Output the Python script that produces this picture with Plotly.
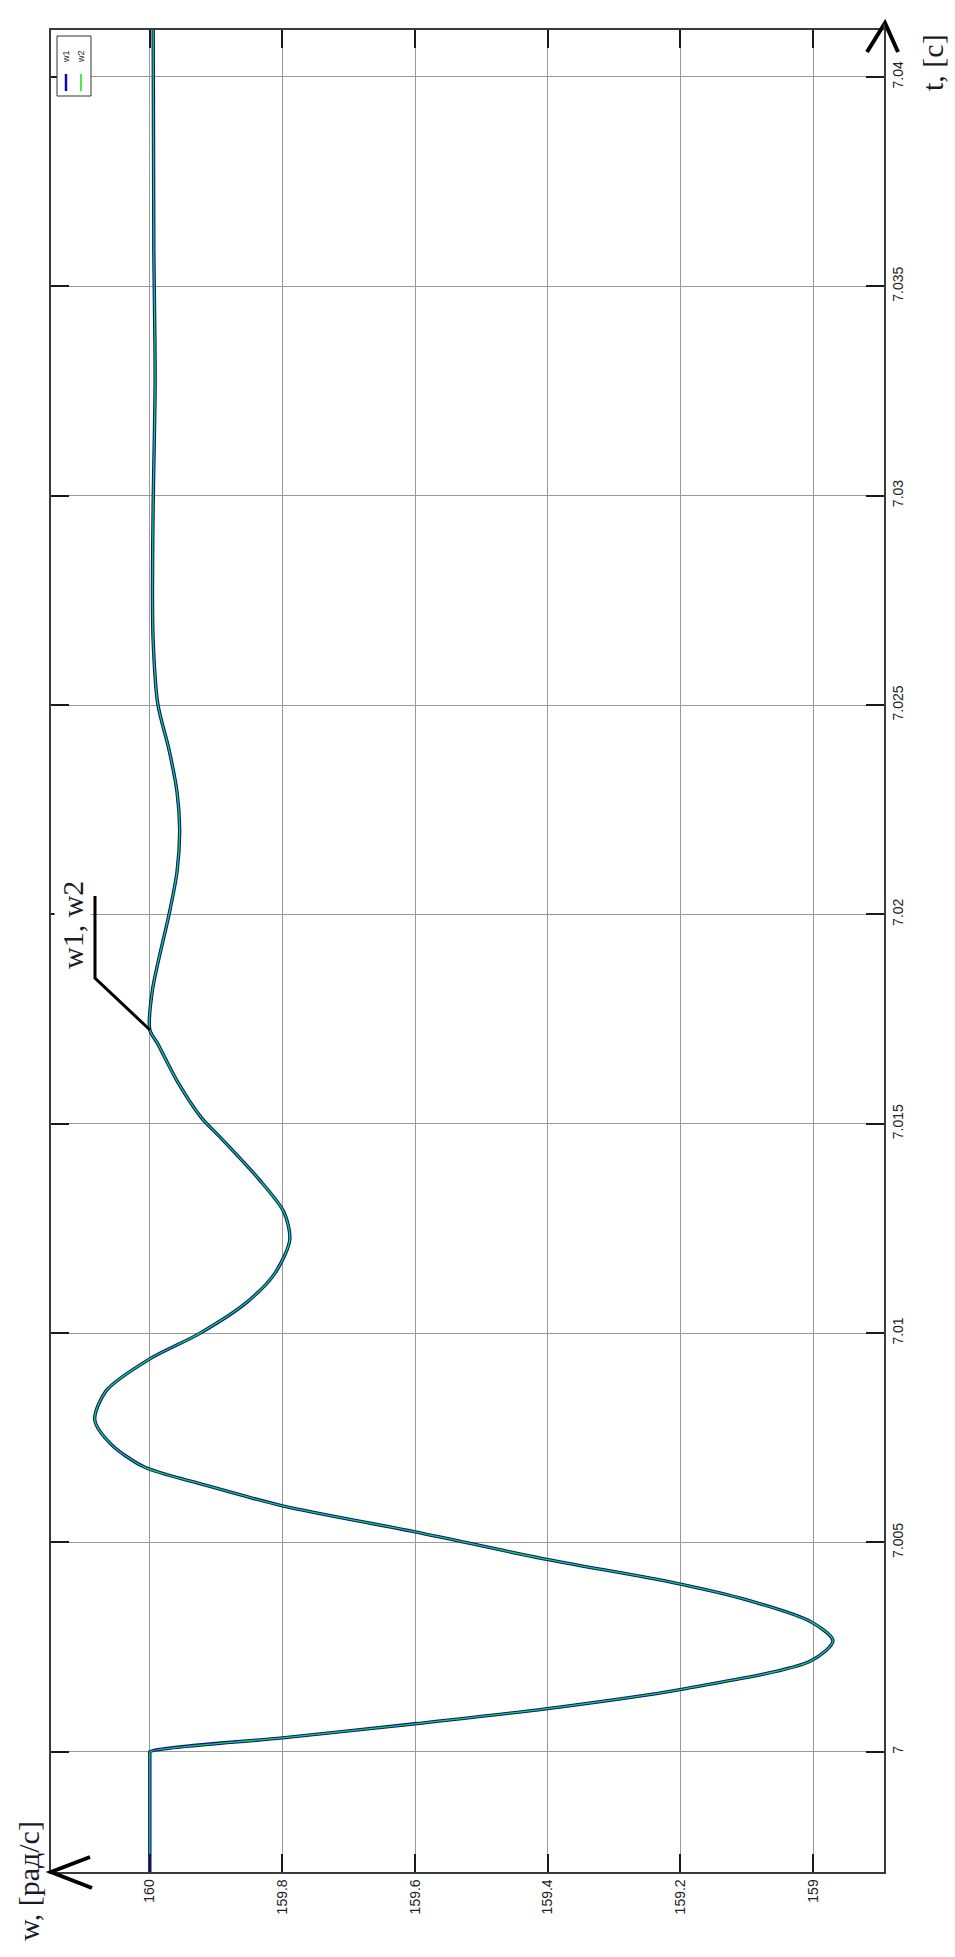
import plotly.graph_objects as go

# Speed transient w(t) around the load step at t = 7 s (two identical signals)
t = [6.9965, 6.99995, 7.0, 7.000334, 7.000669, 7.001027, 7.001481, 7.002173,
     7.002651, 7.003104, 7.003630, 7.004036, 7.004609, 7.005254, 7.005875,
     7.006376, 7.006806, 7.007355, 7.007928, 7.008621, 7.009385, 7.009982,
     7.010746, 7.011439, 7.012227, 7.012896, 7.013684, 7.014663, 7.015140,
     7.016024, 7.016907, 7.017242, 7.018197, 7.020000, 7.021015, 7.022018,
     7.022925, 7.023928, 7.025027, 7.026531, 7.027749, 7.029755, 7.032764,
     7.036000, 7.041500]
w1 = [160.0, 160.0, 160.0, 159.800, 159.600, 159.403, 159.203, 159.003,
      158.970, 159.003, 159.100, 159.209, 159.406, 159.600, 159.800,
      159.918, 160.009, 160.059, 160.083, 160.066, 160.000, 159.926,
      159.853, 159.811, 159.789, 159.798, 159.836, 159.893, 159.922,
      159.959, 159.988, 160.000, 159.996, 159.971, 159.959, 159.955,
      159.959, 159.971, 159.988, 159.995, 159.996, 159.995, 159.992,
      159.994, 159.995]
w2 = [160.0, 160.0, 160.0, 159.800, 159.600, 159.403, 159.203, 159.003,
      158.970, 159.003, 159.100, 159.209, 159.406, 159.600, 159.800,
      159.918, 160.009, 160.059, 160.083, 160.066, 160.000, 159.926,
      159.853, 159.811, 159.789, 159.798, 159.836, 159.893, 159.922,
      159.959, 159.988, 160.000, 159.996, 159.971, 159.959, 159.955,
      159.959, 159.971, 159.988, 159.995, 159.996, 159.995, 159.992,
      159.994, 159.995]

w_ticks = [160, 159.8, 159.6, 159.4, 159.2, 159]
w_labels = ["160", "159.8", "159.6", "159.4", "159.2", "159"]
t_ticks = [7, 7.005, 7.01, 7.015, 7.02, 7.025, 7.03, 7.035, 7.04]
t_labels = ["7", "7.005", "7.01", "7.015", "7.02", "7.025", "7.03", "7.035", "7.04"]

W, H = 955, 1957
L, R, T, B = 51, 884, 30, 1872


def px(X):
    return (X - L) / (R - L)


def py(Y):
    return (B - Y) / (B - T)


def path(points):
    return "M " + " L ".join(f"{px(x):.5f},{py(y):.5f}" for x, y in points)


fig = go.Figure()
fig.add_trace(go.Scatter(x=w1, y=t, mode="lines", name="w1",
                         line=dict(color="#0a0ab8", width=3.4, shape="spline", smoothing=0.8)))
fig.add_trace(go.Scatter(x=w2, y=t, mode="lines", name="w2",
                         line=dict(color="#10e010", width=1.3, shape="spline", smoothing=0.8)))

tick_font = dict(family="Liberation Sans, Arial, sans-serif", size=14, color="#222222")
axis_common = dict(showline=True, linecolor="#3a3a3a", linewidth=1.5, mirror="ticks",
                   ticks="inside", ticklen=18, tickwidth=1.5, tickcolor="#1a1a1a",
                   showgrid=True, gridcolor="#999999", gridwidth=1, zeroline=False,
                   tickangle=-90, tickfont=tick_font)

fig.update_layout(
    width=W, height=H,
    margin=dict(l=L, r=W - R, t=T, b=H - B),
    paper_bgcolor="white", plot_bgcolor="white",
    showlegend=False,
    xaxis=dict(range=[160.149, 158.893], tickmode="array", tickvals=w_ticks,
               ticktext=w_labels, **axis_common),
    yaxis=dict(range=[6.99713, 7.04112], side="right", tickmode="array",
               tickvals=t_ticks, ticktext=t_labels, **axis_common),
)

shapes = []
# axis arrowheads
shapes.append(dict(type="path", xref="paper", yref="paper",
                   path=path([(90, 1857), (51, 1872), (92, 1888)]),
                   line=dict(color="black", width=4)))
shapes.append(dict(type="path", xref="paper", yref="paper",
                   path=path([(867, 52), (885, 23), (898, 52)]),
                   line=dict(color="black", width=4)))
shapes.append(dict(type="line", xref="paper", yref="paper",
                   x0=px(884), x1=px(884), y0=py(30), y1=py(24),
                   line=dict(color="#3a3a3a", width=1.5)))
# leader line for the curve label
shapes.append(dict(type="path", xref="paper", yref="paper",
                   path=path([(95, 896), (95, 978), (150, 1030)]),
                   line=dict(color="black", width=3)))
# legend box
shapes.append(dict(type="rect", xref="paper", yref="paper",
                   x0=px(57), x1=px(91), y0=py(36), y1=py(96),
                   line=dict(color="#333333", width=1), fillcolor="white"))
shapes.append(dict(type="line", xref="paper", yref="paper",
                   x0=px(66), x1=px(66), y0=py(91), y1=py(74),
                   line=dict(color="#0a0ab8", width=2.5)))
shapes.append(dict(type="line", xref="paper", yref="paper",
                   x0=px(81), x1=px(81), y0=py(91), y1=py(74),
                   line=dict(color="#10e010", width=1.5)))
fig.update_layout(shapes=shapes)

serif = "Liberation Serif, Times New Roman, serif"
ann = [
    dict(x=px(28), y=py(1881), text="w, [рад/с]", textangle=-90,
         font=dict(family=serif, size=30, color="#1a1a2a")),
    dict(x=px(932), y=py(63), text="t, [с]", textangle=-90,
         font=dict(family=serif, size=30, color="#1a1a2a")),
    dict(x=px(72), y=py(925), text="w1, w2", textangle=-90, bgcolor="white",
         font=dict(family=serif, size=30, color="#1a1a2a")),
    dict(x=px(66), y=py(57), text="w1", textangle=-90,
         font=dict(family="Liberation Sans, Arial, sans-serif", size=9, color="#222222")),
    dict(x=px(81), y=py(57), text="w2", textangle=-90,
         font=dict(family="Liberation Sans, Arial, sans-serif", size=9, color="#222222")),
]
for a in ann:
    a.update(xref="paper", yref="paper", showarrow=False, xanchor="center", yanchor="middle")
fig.update_layout(annotations=ann)

fig.write_html("out.html")
